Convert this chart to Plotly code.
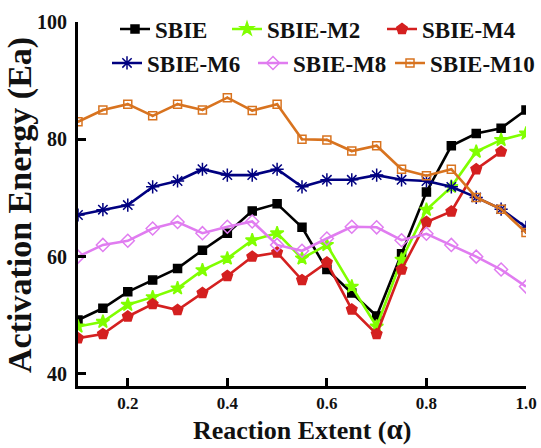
import plotly.graph_objects as go

x_vals = [0.10, 0.15, 0.20, 0.25, 0.30, 0.35, 0.40, 0.45, 0.50, 0.55,
          0.60, 0.65, 0.70, 0.75, 0.80, 0.85, 0.90, 0.95, 1.00]

sbie = [49.2, 51.2, 54.0, 56.0, 58.0, 61.1, 64.0, 67.8, 69.0, 65.0,
        57.8, 53.8, 49.9, 60.5, 71.0, 78.9, 81.0, 81.9, 85.0]
sbie_m2 = [48.1, 48.9, 51.8, 53.1, 54.6, 57.7, 59.7, 62.8, 64.0, 59.7,
           62.0, 54.9, 48.1, 59.5, 68.0, 71.9, 77.9, 79.9, 81.0]
sbie_m4 = [46.1, 46.8, 49.8, 51.9, 50.9, 53.8, 56.7, 60.0, 60.7, 56.0,
           59.0, 51.0, 46.8, 57.8, 65.9, 67.7, 74.9, 77.9]
sbie_m6 = [67.1, 68.0, 68.8, 71.9, 72.9, 74.9, 73.9, 73.9, 74.9, 71.9,
           73.1, 73.1, 73.9, 73.1, 72.9, 71.9, 70.1, 68.1, 65.0]
sbie_m8 = [60.0, 62.0, 62.7, 64.8, 65.9, 64.0, 65.1, 66.0, 62.0, 61.0,
           63.1, 65.1, 65.0, 62.8, 63.9, 62.0, 60.0, 57.8, 54.9]
sbie_m10 = [83.0, 85.0, 86.0, 84.0, 86.0, 85.0, 87.1, 84.9, 86.0, 80.0,
            79.9, 78.0, 78.9, 74.9, 73.8, 74.9, 70.1, 68.1, 64.1]

names = ["SBIE", "SBIE-M2", "SBIE-M4", "SBIE-M6", "SBIE-M8", "SBIE-M10"]
series = [sbie, sbie_m2, sbie_m4, sbie_m6, sbie_m8, sbie_m10]
colors = ["#000000", "#80FF00", "#D42020", "#000080", "#E07CF0", "#D8731F"]
symbols = ["square", "star", "pentagon", "asterisk-open", "diamond-open", "square-open-dot"]
msizes = [8, 10, 11, 11, 10, 8]
legend_ids = ["legend", "legend2", "legend3", "legend4", "legend5", "legend6"]

tick_vals_x = [0.2, 0.4, 0.6, 0.8, 1.0]
tick_vals_y = [40, 60, 80, 100]

FONT = "Liberation Serif"

fig = go.Figure()
for name, ys, c, s, ms, lg in zip(names, series, colors, symbols, msizes, legend_ids):
    fig.add_trace(go.Scatter(
        x=x_vals[:len(ys)], y=ys, name=name, mode="lines+markers",
        line=dict(color=c, width=2.6),
        marker=dict(symbol=s, size=ms, color=c, line=dict(color=c, width=1.5)),
        legend=lg,
    ))

W, H = 541, 448
L, R, T, B = 78, 15, 22, 62
pw, ph = W - L - R, H - T - B

def px_x(p):
    return (p - L) / pw

def px_y(p):
    return 1 - (p - T) / ph

legend_font = dict(family=FONT, size=23, color="#111111", weight="bold")
leg_pos = [(115, 29), (227, 29), (382, 29), (107, 63), (253, 63), (390, 63)]
leg_layout = {}
for lg, (lx, ly) in zip(legend_ids, leg_pos):
    leg_layout[lg] = dict(x=px_x(lx), y=px_y(ly), xanchor="left", yanchor="middle",
                          bgcolor="rgba(0,0,0,0)", font=legend_font,
                          borderwidth=0, tracegroupgap=0)

fig.update_layout(
    width=W, height=H,
    margin=dict(l=L, r=R, t=T, b=B, autoexpand=False),
    paper_bgcolor="white", plot_bgcolor="white",
    showlegend=True,
    xaxis=dict(range=[0.1, 1.0], tickvals=tick_vals_x, tickformat=".1f",
               ticks="inside", ticklen=8, tickwidth=3, tickcolor="black",
               showline=True, linecolor="black", linewidth=3,
               showgrid=False, zeroline=False, ticklabelstandoff=0,
               tickfont=dict(family=FONT, size=17, color="#111111", weight="bold")),
    yaxis=dict(range=[37.95, 100], tickvals=tick_vals_y,
               ticks="inside", ticklen=8, tickwidth=3, tickcolor="black",
               showline=True, linecolor="black", linewidth=3,
               showgrid=False, zeroline=False, ticklabelstandoff=4,
               tickfont=dict(family=FONT, size=20, color="#111111", weight="bold")),
    annotations=[
        dict(text="Activation Energy (Ea)", xref="paper", yref="paper",
             x=px_x(20), y=px_y(205), xanchor="center", yanchor="middle",
             textangle=-90, showarrow=False,
             font=dict(family=FONT, size=34, color="#111111", weight="bold")),
        dict(text="Reaction Extent (<span style='font-size:29px'>α</span>)",
             xref="paper", yref="paper",
             x=px_x(302), y=px_y(447), xanchor="center", yanchor="bottom",
             showarrow=False,
             font=dict(family=FONT, size=26, color="#111111", weight="bold")),
    ],
    **leg_layout,
)

fig.write_html("out.html")
